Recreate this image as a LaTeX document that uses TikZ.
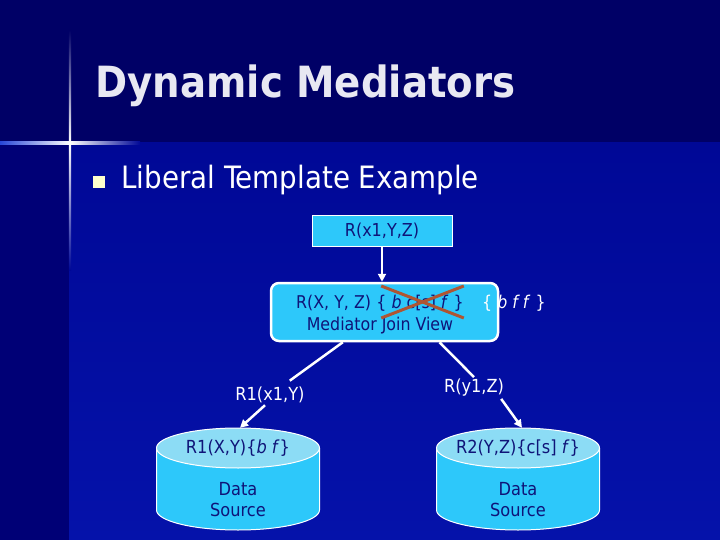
\documentclass[tikz,border=0pt]{standalone}
\usepackage{fontspec}
\setmainfont{DejaVu Sans Condensed}
\usetikzlibrary{arrows.meta}

\definecolor{topbg}{RGB}{0,0,102}
\definecolor{lowbg}{RGB}{0,8,150}
\definecolor{lowbgb}{RGB}{5,18,170}
\definecolor{stripbg}{RGB}{0,0,118}
\definecolor{glowblue}{RGB}{40,70,215}
\definecolor{boxcyan}{RGB}{45,200,250}
\definecolor{cyltop}{RGB}{140,220,245}
\definecolor{navytext}{RGB}{15,20,120}
\definecolor{crossred}{RGB}{175,85,50}
\definecolor{titlegray}{RGB}{232,232,242}
\definecolor{bulletyellow}{RGB}{255,255,204}

\tikzset{
  qbox/.style={draw=white,line width=1pt,fill=boxcyan,text=navytext,
    font=\fontsize{17.8}{21}\selectfont,minimum width=140pt,minimum height=30pt},
  medbox/.style={draw=white,line width=2.5pt,fill=boxcyan,rounded corners=8pt,
    minimum width=227pt,minimum height=58pt},
  medtext/.style={text=navytext,font=\fontsize{17.6}{21}\selectfont,inner sep=0pt},
  srcarea/.style={minimum width=163pt,minimum height=102pt,inner sep=0pt},
  cylbody/.style={draw=white,line width=1pt,fill=boxcyan},
  cylend/.style={draw=white,line width=1pt,fill=cyltop},
  dstext/.style={text=navytext,font=\fontsize{18}{21}\selectfont,align=center},
  linklabel/.style={text=white,font=\fontsize{18}{21}\selectfont,inner sep=2pt},
  link/.style={draw=white,line width=2.5pt},
  arr/.style={link,-{Triangle[length=8pt,width=8pt]}},
  crossline/.style={draw=crossred,line width=3pt},
}

\begin{document}
\begin{tikzpicture}[x=1pt,y=-1pt]
  \useasboundingbox (0,0) rectangle (720,540);
  % slide background
  \fill[topbg] (0,0) rectangle (720,143);
  \shade[top color=lowbg,bottom color=lowbgb] (69,143) rectangle (720,540);
  \fill[stripbg] (0,143) rectangle (69,540);
  \shade[left color=glowblue,right color=white] (0,142) rectangle (70,144.5);
  \shade[left color=white,right color=lowbg] (70,142) rectangle (140,144.5);
  \shade[top color=topbg,bottom color=white] (68.8,30) rectangle (71.2,143);
  \shade[top color=white,bottom color=lowbg] (68.8,143) rectangle (71.2,270);

  \node[anchor=base west,text=titlegray,font=\fontsize{43}{50}\selectfont\bfseries]
    (title) at (92,98) {Dynamic Mediators};
  \node[fill=bulletyellow,minimum size=11.5pt,inner sep=0pt] (bullet) at (99,182) {};
  \node[anchor=base west,text=white,font=\fontsize{30.8}{36}\selectfont]
    (item) at (118,189) {Liberal Template Example};

  % query and mediator
  \node[qbox] (query) at (382,231) {R(x1,Y,Z)};
  \node[medbox] (med) at (384.5,312) {};
  \node[medtext,anchor=base west] (medhead) at (296,308) {R(X, Y, Z)};
  \node[medtext,anchor=base west] (oldtpl) at ([xshift=5pt]medhead.base east)
    {\{ \textit{b} c[s] \textit{f} \}};
  \node[medtext,anchor=base west,text=white] (newtpl) at (482,308)
    {\{ \textit{b f f} \}};
  \node[medtext,anchor=base] (medname) at (380,330) {Mediator Join View};
  \draw[crossline] ([shift={(5pt,22pt)}]oldtpl.base west)
    -- ([shift={(0pt,-10pt)}]oldtpl.base east);
  \draw[crossline] ([shift={(5pt,-10pt)}]oldtpl.base west)
    -- ([shift={(0pt,22pt)}]oldtpl.base east);
  \draw[arr] (query.south) -- (query.south |- med.north);

  % data sources
  \node[srcarea] (src1) at (238,479) {};
  \node[srcarea] (src2) at (518,479) {};
  \filldraw[cylbody] (156.5,448) -- (156.5,510)
    arc[start angle=180,end angle=0,x radius=81.5,y radius=20] -- (319.5,448);
  \filldraw[cylend] (238,448) ellipse[x radius=81.5,y radius=20];
  \filldraw[cylbody] (436.5,448) -- (436.5,510)
    arc[start angle=180,end angle=0,x radius=81.5,y radius=20] -- (599.5,448);
  \filldraw[cylend] (518,448) ellipse[x radius=81.5,y radius=20];
  \node[dstext] (src1name) at ([yshift=-20pt]src1.north) {R1(X,Y)\{\textit{b f}\}};
  \node[dstext] (src1kind) at ([yshift=-21pt]src1.center) {Data\\Source};
  \node[dstext] (src2name) at ([yshift=-20pt]src2.north) {R2(Y,Z)\{c[s] \textit{f}\}};
  \node[dstext] (src2kind) at ([yshift=-21pt]src2.center) {Data\\Source};

  \node[linklabel] (lbl1) at (270,395) {R1(x1,Y)};
  \node[linklabel] (lbl2) at (474,388) {R(y1,Z)};
  \draw[link,shorten >=7pt] (med) -- (lbl1);
  \draw[link] ([xshift=55pt]med.south) -- (lbl2.north);
  \draw[arr] ([xshift=-5pt]lbl1.south) -- ([xshift=2pt]src1.north);
  \draw[arr] ([xshift=-5pt]lbl2.south east) -- ([xshift=4pt]src2.north);
\end{tikzpicture}
\end{document}
